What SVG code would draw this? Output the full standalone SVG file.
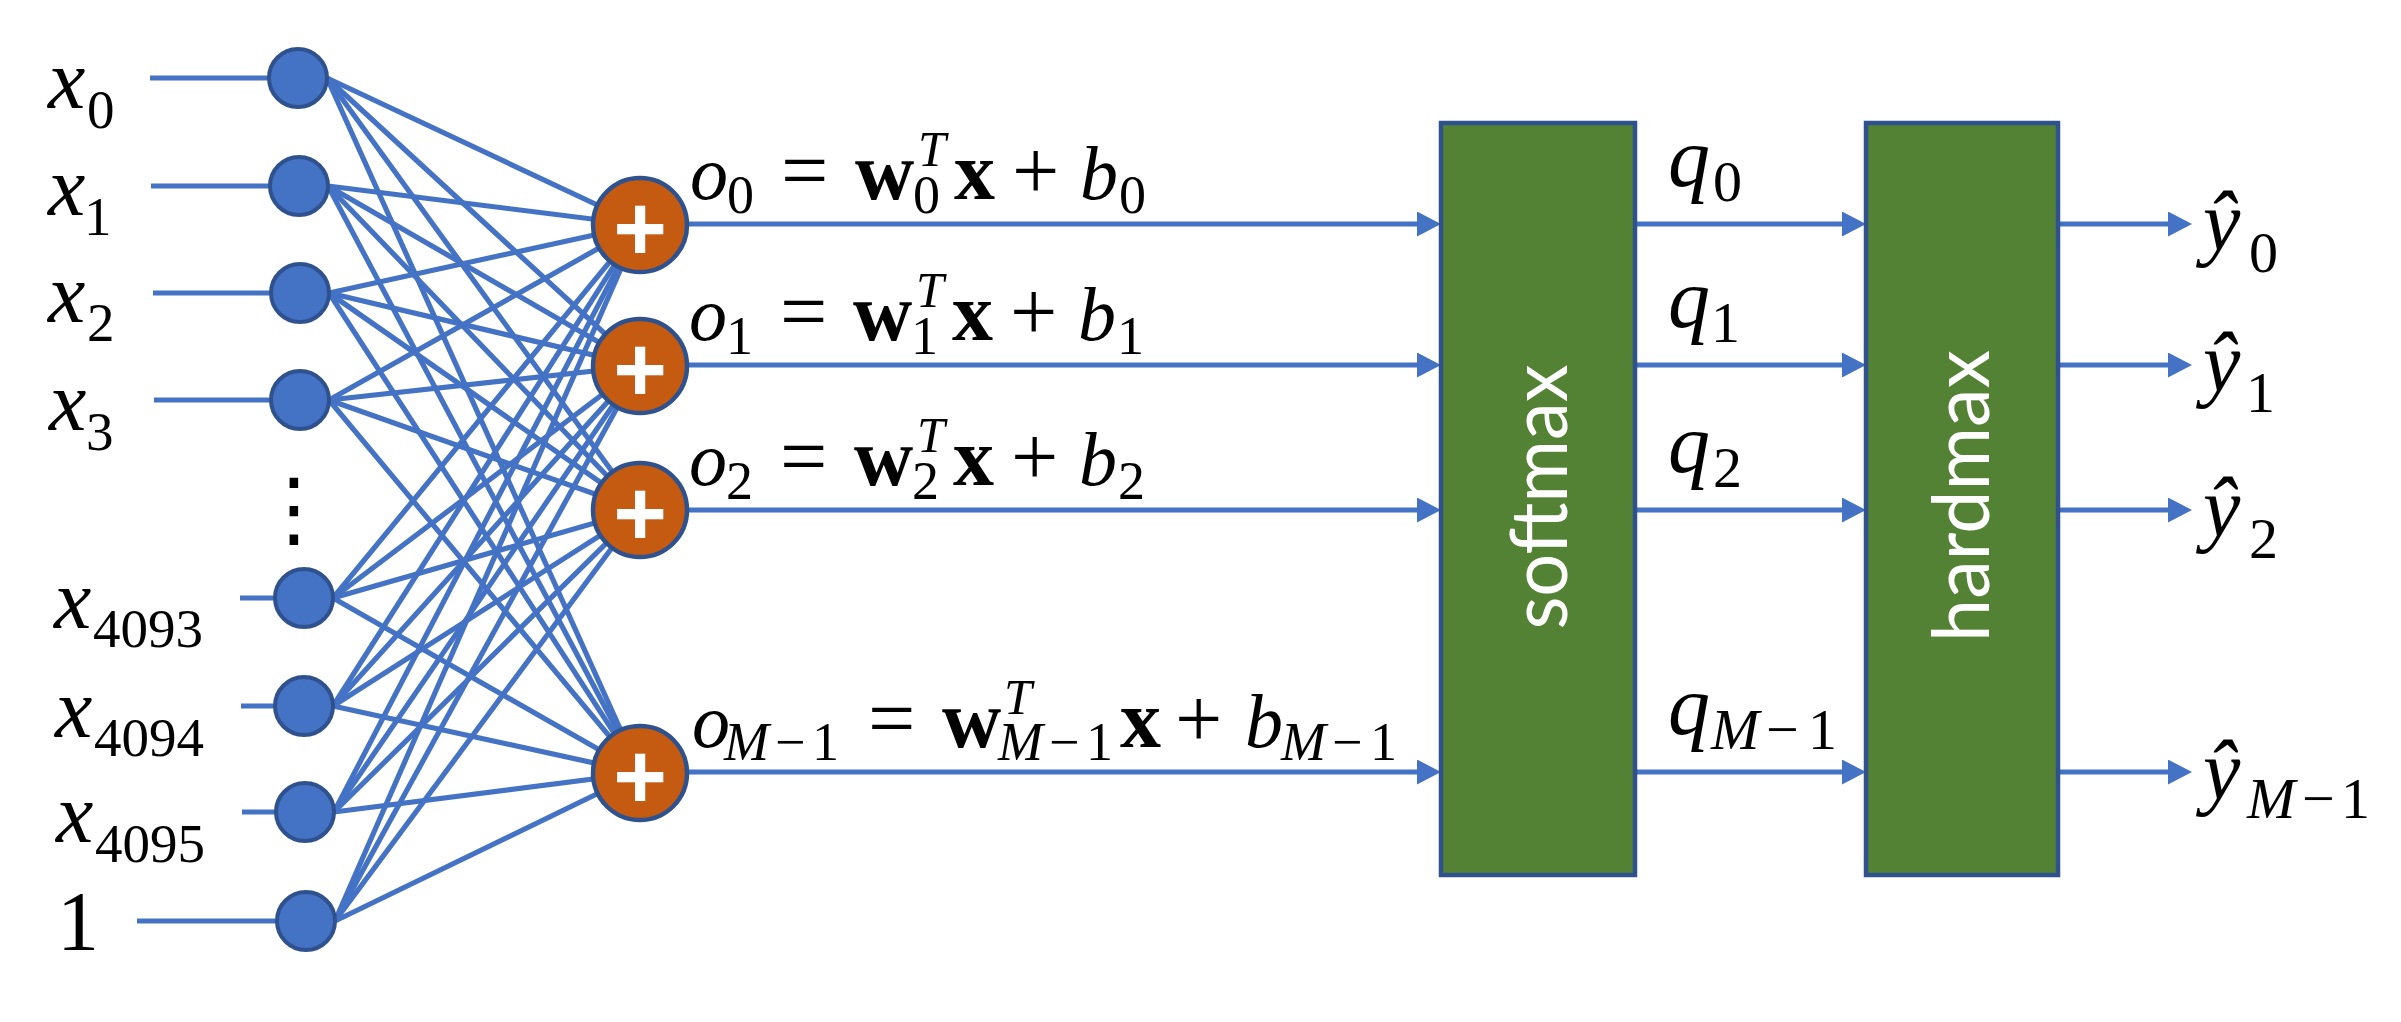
<svg xmlns="http://www.w3.org/2000/svg" width="2401" height="1022" viewBox="0 0 2401 1022">
<defs>
<style>
.c{stroke:#4472C4;stroke-width:5.2;fill:none}
.in{fill:#4472C4;stroke:#2F528F;stroke-width:4}
.sum{fill:#C55A11;stroke:#2F528F;stroke-width:4.5}
.box{fill:#548235;stroke:#2F528F;stroke-width:4.5}
.plus{font-family:"Liberation Sans",Arial,sans-serif;font-weight:bold;font-size:92px;fill:#fff;text-anchor:middle}
.lab{font-family:"Liberation Serif","Times New Roman",serif;font-size:84px;fill:#000}
.eq{font-family:"Liberation Serif","Times New Roman",serif;font-size:76px;fill:#000}
.op{font-size:84px}
.it{font-style:italic}
.bd{font-weight:bold;font-size:82px}
.sub{font-size:54px}
.sup{font-size:50px}
.s2{font-size:58px}
.box-t{font-family:Lato,"Open Sans",sans-serif;font-size:80px;fill:#fff;text-anchor:middle}
.dots{font-family:"DejaVu Sans",sans-serif;font-size:83px;fill:#000;text-anchor:middle}
</style>
<marker id="ah" markerUnits="userSpaceOnUse" markerWidth="24" markerHeight="25" viewBox="0 0 24 25" refX="4" refY="12.5" orient="auto">
<path d="M0,0 L24,12.5 L0,25 z" fill="#4472C4"/>
</marker>
</defs>
<rect width="2401" height="1022" fill="#fff"/>

<g id="connectors">
<line class="c" x1="150" y1="78" x2="298" y2="78"/>
<line class="c" x1="151" y1="186" x2="299" y2="186"/>
<line class="c" x1="153" y1="293" x2="300" y2="293"/>
<line class="c" x1="154" y1="400" x2="300" y2="400"/>
<line class="c" x1="240" y1="598" x2="304" y2="598"/>
<line class="c" x1="241" y1="706" x2="304" y2="706"/>
<line class="c" x1="242" y1="812" x2="305" y2="812"/>
<line class="c" x1="137" y1="921" x2="306" y2="921"/>

<line class="c" x1="327" y1="78" x2="640" y2="225"/>
<line class="c" x1="327" y1="78" x2="640" y2="366"/>
<line class="c" x1="327" y1="78" x2="640" y2="510"/>
<line class="c" x1="327" y1="78" x2="640" y2="773"/>
<line class="c" x1="328" y1="186" x2="640" y2="225"/>
<line class="c" x1="328" y1="186" x2="640" y2="366"/>
<line class="c" x1="328" y1="186" x2="640" y2="510"/>
<line class="c" x1="328" y1="186" x2="640" y2="773"/>
<line class="c" x1="329" y1="293" x2="640" y2="225"/>
<line class="c" x1="329" y1="293" x2="640" y2="366"/>
<line class="c" x1="329" y1="293" x2="640" y2="510"/>
<line class="c" x1="329" y1="293" x2="640" y2="773"/>
<line class="c" x1="329" y1="400" x2="640" y2="225"/>
<line class="c" x1="329" y1="400" x2="640" y2="366"/>
<line class="c" x1="329" y1="400" x2="640" y2="510"/>
<line class="c" x1="329" y1="400" x2="640" y2="773"/>
<line class="c" x1="333" y1="598" x2="640" y2="225"/>
<line class="c" x1="333" y1="598" x2="640" y2="366"/>
<line class="c" x1="333" y1="598" x2="640" y2="510"/>
<line class="c" x1="333" y1="598" x2="640" y2="773"/>
<line class="c" x1="333" y1="706" x2="640" y2="225"/>
<line class="c" x1="333" y1="706" x2="640" y2="366"/>
<line class="c" x1="333" y1="706" x2="640" y2="510"/>
<line class="c" x1="333" y1="706" x2="640" y2="773"/>
<line class="c" x1="334" y1="812" x2="640" y2="225"/>
<line class="c" x1="334" y1="812" x2="640" y2="366"/>
<line class="c" x1="334" y1="812" x2="640" y2="510"/>
<line class="c" x1="334" y1="812" x2="640" y2="773"/>
<line class="c" x1="335" y1="921" x2="640" y2="225"/>
<line class="c" x1="335" y1="921" x2="640" y2="366"/>
<line class="c" x1="335" y1="921" x2="640" y2="510"/>
<line class="c" x1="335" y1="921" x2="640" y2="773"/>

<line class="c" x1="687" y1="224" x2="1421" y2="224" marker-end="url(#ah)"/>
<line class="c" x1="687" y1="365" x2="1421" y2="365" marker-end="url(#ah)"/>
<line class="c" x1="687" y1="510" x2="1421" y2="510" marker-end="url(#ah)"/>
<line class="c" x1="687" y1="772" x2="1421" y2="772" marker-end="url(#ah)"/>

<line class="c" x1="1637" y1="224" x2="1846" y2="224" marker-end="url(#ah)"/>
<line class="c" x1="1637" y1="365" x2="1846" y2="365" marker-end="url(#ah)"/>
<line class="c" x1="1637" y1="510" x2="1846" y2="510" marker-end="url(#ah)"/>
<line class="c" x1="1637" y1="772" x2="1846" y2="772" marker-end="url(#ah)"/>

<line class="c" x1="2060" y1="224" x2="2172" y2="224" marker-end="url(#ah)"/>
<line class="c" x1="2060" y1="365" x2="2172" y2="365" marker-end="url(#ah)"/>
<line class="c" x1="2060" y1="510" x2="2172" y2="510" marker-end="url(#ah)"/>
<line class="c" x1="2060" y1="772" x2="2172" y2="772" marker-end="url(#ah)"/>
</g>

<g id="in0"><circle class="in" cx="298" cy="78" r="29"/><text class="lab" y="108"><tspan x="48" class="it">x</tspan><tspan x="87" y="128" font-size="55">0</tspan></text></g>
<g id="in1"><circle class="in" cx="299" cy="186" r="29"/><text class="lab" y="215"><tspan x="48" class="it">x</tspan><tspan x="84" y="235" font-size="55">1</tspan></text></g>
<g id="in2"><circle class="in" cx="300" cy="293" r="29"/><text class="lab" y="322"><tspan x="48" class="it">x</tspan><tspan x="87" y="341" font-size="55">2</tspan></text></g>
<g id="in3"><circle class="in" cx="300" cy="400" r="29"/><text class="lab" y="430"><tspan x="49" class="it">x</tspan><tspan x="86" y="450" font-size="55">3</tspan></text></g>
<g id="dots"><text class="dots" x="294" y="537">⋮</text></g>
<g id="in4093"><circle class="in" cx="304" cy="598" r="29"/><text class="lab" y="628"><tspan x="54" class="it">x</tspan><tspan x="93" y="647" font-size="55">4093</tspan></text></g>
<g id="in4094"><circle class="in" cx="304" cy="706" r="29"/><text class="lab" y="737"><tspan x="55" class="it">x</tspan><tspan x="94" y="756" font-size="55">4094</tspan></text></g>
<g id="in4095"><circle class="in" cx="305" cy="812" r="29"/><text class="lab" y="842"><tspan x="56" class="it">x</tspan><tspan x="95" y="862" font-size="55">4095</tspan></text></g>
<g id="in1bias"><circle class="in" cx="306" cy="921" r="29"/><text class="lab" x="57" y="950" font-size="88">1</text></g>

<g id="sum0"><circle class="sum" cx="640" cy="225" r="47"/><text class="plus" x="640" y="260">+</text></g>
<g id="sum1"><circle class="sum" cx="640" cy="366" r="47"/><text class="plus" x="640" y="401">+</text></g>
<g id="sum2"><circle class="sum" cx="640" cy="510" r="47"/><text class="plus" x="640" y="545">+</text></g>
<g id="sum3"><circle class="sum" cx="640" cy="773" r="47"/><text class="plus" x="640" y="808">+</text></g>

<g id="eq0"><text class="eq"><tspan x="690" y="199" class="it">o</tspan><tspan x="727" y="213" class="sub">0</tspan><tspan x="781" y="199" class="op">=</tspan><tspan x="855" y="199" class="bd">w</tspan><tspan x="918" y="166" class="sup it">T</tspan><tspan x="913" y="213" class="sub">0</tspan><tspan x="954" y="199" class="bd">x</tspan><tspan x="1012" y="199" class="op">+</tspan><tspan x="1080" y="199" class="it">b</tspan><tspan x="1119" y="213" class="sub">0</tspan></text></g>
<g id="eq1"><text class="eq"><tspan x="689" y="340" class="it">o</tspan><tspan x="726" y="354" class="sub">1</tspan><tspan x="780" y="340" class="op">=</tspan><tspan x="853" y="340" class="bd">w</tspan><tspan x="916" y="307" class="sup it">T</tspan><tspan x="911" y="354" class="sub">1</tspan><tspan x="952" y="340" class="bd">x</tspan><tspan x="1010" y="340" class="op">+</tspan><tspan x="1078" y="340" class="it">b</tspan><tspan x="1117" y="354" class="sub">1</tspan></text></g>
<g id="eq2"><text class="eq"><tspan x="689" y="485" class="it">o</tspan><tspan x="726" y="499" class="sub">2</tspan><tspan x="780" y="485" class="op">=</tspan><tspan x="854" y="485" class="bd">w</tspan><tspan x="917" y="452" class="sup it">T</tspan><tspan x="912" y="499" class="sub">2</tspan><tspan x="953" y="485" class="bd">x</tspan><tspan x="1011" y="485" class="op">+</tspan><tspan x="1079" y="485" class="it">b</tspan><tspan x="1118" y="499" class="sub">2</tspan></text></g>
<g id="eq3"><text class="eq"><tspan x="692" y="747" class="it">o</tspan><tspan x="724" y="760" class="sub it">M</tspan><tspan x="775" y="760" class="sub">−</tspan><tspan x="812" y="760" class="sub">1</tspan><tspan x="868" y="747" class="op">=</tspan><tspan x="942" y="747" class="bd">w</tspan><tspan x="1004" y="714" class="sup it">T</tspan><tspan x="998" y="760" class="sub it">M</tspan><tspan x="1049" y="760" class="sub">−</tspan><tspan x="1086" y="760" class="sub">1</tspan><tspan x="1120" y="747" class="bd">x</tspan><tspan x="1175" y="747" class="op">+</tspan><tspan x="1245" y="747" class="it">b</tspan><tspan x="1281" y="760" class="sub it">M</tspan><tspan x="1332" y="760" class="sub">−</tspan><tspan x="1370" y="760" class="sub">1</tspan></text></g>

<g id="softmax"><rect class="box" x="1441" y="123" width="194" height="752"/><text class="box-t" transform="translate(1567,497) rotate(-90)" textLength="265" lengthAdjust="spacingAndGlyphs">softmax</text></g>
<g id="hardmax"><rect class="box" x="1866" y="123" width="192" height="752"/><text class="box-t" transform="translate(1989,496) rotate(-90)" textLength="292" lengthAdjust="spacingAndGlyphs">hardmax</text></g>

<g id="q0"><text class="lab"><tspan x="1668" y="186" class="it">q</tspan><tspan x="1713" y="201" class="s2">0</tspan></text></g>
<g id="q1"><text class="lab"><tspan x="1668" y="327" class="it">q</tspan><tspan x="1711" y="342" class="s2">1</tspan></text></g>
<g id="q2"><text class="lab"><tspan x="1668" y="472" class="it">q</tspan><tspan x="1713" y="487" class="s2">2</tspan></text></g>
<g id="q3"><text class="lab"><tspan x="1668" y="734" class="it">q</tspan><tspan x="1711" y="749" class="s2 it">M</tspan><tspan x="1766" y="749" class="s2">−</tspan><tspan x="1808" y="749" class="s2">1</tspan></text></g>

<g id="y0"><text class="lab"><tspan x="2203" y="250" class="it">ŷ</tspan><tspan x="2249" y="272" class="s2">0</tspan></text></g>
<g id="y1"><text class="lab"><tspan x="2203" y="391" class="it">ŷ</tspan><tspan x="2246" y="412" class="s2">1</tspan></text></g>
<g id="y2"><text class="lab"><tspan x="2203" y="536" class="it">ŷ</tspan><tspan x="2249" y="558" class="s2">2</tspan></text></g>
<g id="y3"><text class="lab"><tspan x="2203" y="799" class="it">ŷ</tspan><tspan x="2247" y="818" class="s2 it">M</tspan><tspan x="2302" y="818" class="s2">−</tspan><tspan x="2341" y="818" class="s2">1</tspan></text></g>
</svg>
